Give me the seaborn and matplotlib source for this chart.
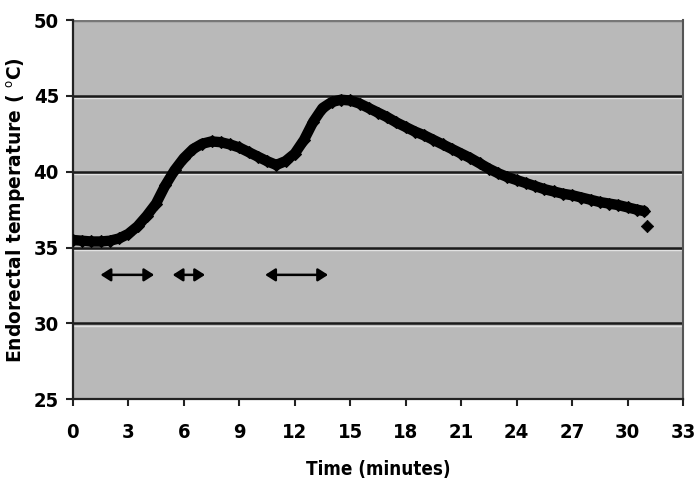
import matplotlib
matplotlib.use("Agg")
import matplotlib.pyplot as plt
import seaborn as sns
import pandas as pd

# Data
time_min = [0, 0.5, 1, 1.5, 2, 2.5, 3, 3.5, 4, 4.5, 5, 5.5, 6, 6.5, 7, 7.5, 8, 8.5,
            9, 9.5, 10, 10.5, 11, 11.5, 12, 12.5, 13, 13.5, 14, 14.5, 15, 15.5, 16,
            16.5, 17, 17.5, 18, 18.5, 19, 19.5, 20, 20.5, 21, 21.5, 22, 22.5, 23,
            23.5, 24, 24.5, 25, 25.5, 26, 26.5, 27, 27.5, 28, 28.5, 29, 29.5, 30,
            30.5, 30.9]
temp_c = [35.5, 35.45, 35.4, 35.4, 35.45, 35.6, 35.9, 36.4, 37.1, 37.9, 39.1, 40.1,
          40.9, 41.5, 41.85, 42.0, 41.95, 41.8, 41.6, 41.3, 41.0, 40.7, 40.45, 40.7,
          41.2, 42.1, 43.3, 44.2, 44.6, 44.75, 44.7, 44.5, 44.2, 43.9, 43.6, 43.25,
          42.95, 42.65, 42.4, 42.1, 41.8, 41.5, 41.2, 40.9, 40.55, 40.2, 39.9, 39.65,
          39.45, 39.25, 39.05, 38.85, 38.7, 38.55, 38.45, 38.3, 38.15, 38.0, 37.9,
          37.8, 37.65, 37.5, 37.4]
last_time = [31.05]
last_temp = [36.4]

arrow_start = [1.5, 5.4, 10.4]
arrow_end = [4.4, 7.15, 13.8]
arrow_level = [33.2, 33.2, 33.2]

x_ticks = list(range(0, 34, 3))
y_ticks = [25, 30, 35, 40, 45, 50]

sns.set_theme(style="white")
plt.rcParams['font.family'] = ['DejaVu Sans']
plt.rcParams['font.stretch'] = 'condensed'
plt.rcParams['text.color'] = 'black'
plt.rcParams['axes.labelcolor'] = 'black'
plt.rcParams['xtick.color'] = 'black'
plt.rcParams['ytick.color'] = 'black'

fig = plt.figure(figsize=(7.0, 4.91), dpi=100)
ax = fig.add_axes([0.104, 0.187, 0.872, 0.772])
ax.set_facecolor("#b9b9b9")

df = pd.DataFrame({"time": time_min, "temp": temp_c})
sns.lineplot(data=df, x="time", y="temp", ax=ax, color="black", linewidth=7.5,
             marker="D", markersize=6.5, markeredgecolor="black", zorder=4)
sns.scatterplot(x=last_time, y=last_temp, ax=ax, color="black", marker="D", s=40,
                edgecolor="black", zorder=4)

for s, e, lv in zip(arrow_start, arrow_end, arrow_level):
    ax.annotate("", xy=(e, lv), xytext=(s, lv),
                arrowprops=dict(arrowstyle="<|-|>,head_length=0.5,head_width=0.32",
                                color="black", lw=1.8, shrinkA=0, shrinkB=0),
                zorder=5)

ax.set_xlim(0, 33)
ax.set_ylim(25, 50)
ax.set_xticks(x_ticks)
ax.set_yticks(y_ticks)
for yv in y_ticks[1:-1]:
    ax.axhline(yv - 0.15, color="#e2e2e2", lw=1.0, zorder=1)
    ax.axhline(yv, color="#1a1a1a", lw=1.8, zorder=2)
ax.axhline(50, color="#777777", lw=2.5, zorder=2)

for side in ["left", "bottom"]:
    ax.spines[side].set_color("#222222")
    ax.spines[side].set_linewidth(1.6)
ax.spines["right"].set_color("#555555")
ax.spines["right"].set_linewidth(1.5)
ax.spines["top"].set_visible(False)

ax.tick_params(axis="both", which="both", direction="out", length=5, width=1.5,
               color="#222222", labelsize=14.5, pad=5)
ax.tick_params(axis="x", pad=12)
ax.tick_params(axis="x", bottom=True)
ax.tick_params(axis="y", left=True)
for lab in ax.get_xticklabels() + ax.get_yticklabels():
    lab.set_fontweight("bold")
    lab.set_fontstretch("condensed")

ax.set_xlabel("Time (minutes)", fontsize=13.5, fontweight="bold", labelpad=13,
              fontstretch="condensed")
ax.set_ylabel("Endorectal temperature ( $^{\\mathrm{o}}$C)", fontsize=13.5,
              fontweight="bold", labelpad=4, fontstretch="normal")

fig.savefig("out.png", dpi=100, facecolor="white")
